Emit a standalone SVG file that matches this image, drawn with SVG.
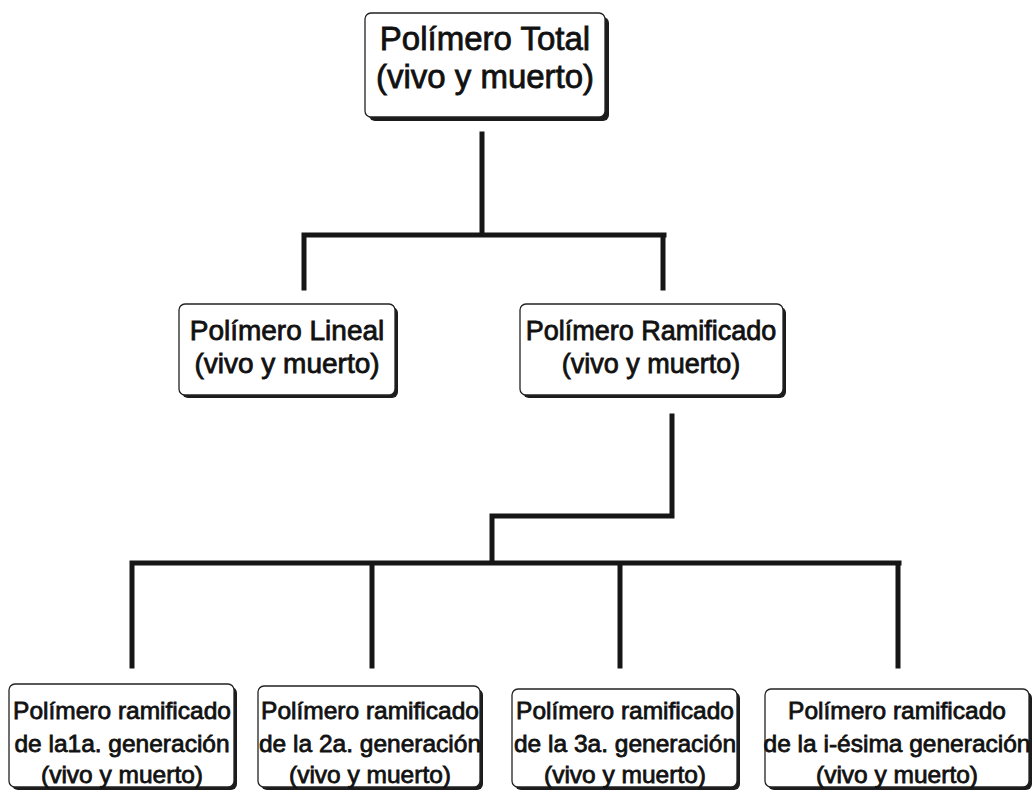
<svg xmlns="http://www.w3.org/2000/svg" width="1034" height="792" viewBox="0 0 1034 792">
<style>
.box{fill:#fff;stroke:#222;stroke-width:1.3}
.sh{fill:#1c1c1c}
.t{font-family:"Liberation Sans",Arial,sans-serif;fill:#111;stroke:#111;stroke-width:0.8;text-anchor:middle}
.c{fill:none;stroke:#161616;stroke-width:5;stroke-linejoin:miter;stroke-linecap:square}
</style>
<rect width="1034" height="792" fill="#fff"/>
<g id="connectors">
<path class="c" d="M482,134 V235 M304,235 H664 M304,235 V288 M663,235 V288"/>
<path class="c" d="M672,416 V516 H492 V563 M132,563 H899 M132,563 V666 M372,563 V666 M620,563 V666 M898,563 V666"/>
</g>
<g id="n-total">
<rect class="sh" x="369" y="17" width="240" height="104" rx="6"/>
<rect class="box" x="365" y="13" width="240" height="104" rx="6"/>
<text class="t" x="485" y="50" font-size="33">Polímero Total</text>
<text class="t" x="485" y="88" font-size="33">(vivo y muerto)</text>
</g>
<g id="n-lineal">
<rect class="sh" x="182" y="307" width="216" height="91" rx="6"/>
<rect class="box" x="179" y="304" width="216" height="91" rx="6"/>
<text class="t" x="287" y="340" font-size="28">Polímero Lineal</text>
<text class="t" x="287" y="373" font-size="28">(vivo y muerto)</text>
</g>
<g id="n-ramificado">
<rect class="sh" x="523" y="307" width="263" height="91" rx="6"/>
<rect class="box" x="520" y="304" width="263" height="91" rx="6"/>
<text class="t" x="651" y="340" font-size="27">Polímero Ramificado</text>
<text class="t" x="651" y="373" font-size="27">(vivo y muerto)</text>
</g>
<g id="n-gen1">
<rect class="sh" x="12" y="687" width="225" height="103" rx="6"/>
<rect class="box" x="9" y="684" width="225" height="103" rx="6"/>
<text class="t" x="122" y="719" font-size="24.5">Polímero ramificado</text>
<text class="t" x="122" y="752" font-size="24.5">de la1a. generación</text>
<text class="t" x="122" y="783" font-size="24.5">(vivo y muerto)</text>
</g>
<g id="n-gen2">
<rect class="sh" x="261" y="689" width="222" height="101" rx="6"/>
<rect class="box" x="258" y="686" width="222" height="101" rx="6"/>
<text class="t" x="370" y="719" font-size="24.5">Polímero ramificado</text>
<text class="t" x="370" y="752" font-size="24.5">de la 2a. generación</text>
<text class="t" x="370" y="783" font-size="24.5">(vivo y muerto)</text>
</g>
<g id="n-gen3">
<rect class="sh" x="515" y="692" width="225" height="98" rx="6"/>
<rect class="box" x="512" y="689" width="225" height="98" rx="6"/>
<text class="t" x="625" y="719" font-size="24.5">Polímero ramificado</text>
<text class="t" x="625" y="752" font-size="24.5">de la 3a. generación</text>
<text class="t" x="625" y="783" font-size="24.5">(vivo y muerto)</text>
</g>
<g id="n-geni">
<rect class="sh" x="768" y="692" width="264" height="98" rx="6"/>
<rect class="box" x="765" y="689" width="264" height="98" rx="6"/>
<text class="t" x="897" y="719" font-size="24.5">Polímero ramificado</text>
<text class="t" x="897" y="752" font-size="24.5">de la i-ésima generación</text>
<text class="t" x="897" y="783" font-size="24.5">(vivo y muerto)</text>
</g>
</svg>
